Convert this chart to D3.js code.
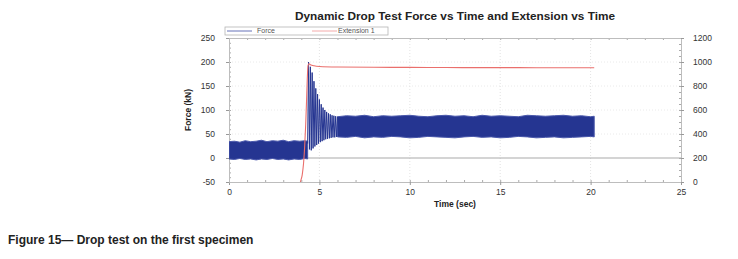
<!DOCTYPE html>
<html lang="en">
  <head>
    <meta charset="UTF-8" />
    <title>drop test force vs time</title>
    <style type="text/css">
      html,
      body {
        margin: 0;
        padding: 0;
        background: #fff;
        font-family: "Liberation Sans", Arial, sans-serif;
      }
      svg {
        display: block;
      }
    </style>
  </head>
  <body>
    <svg id="chart"></svg>
    <script src="https://cdn.jsdelivr.net/npm/d3@7/dist/d3.min.js"></script>
    <script>
      // === Data === //

      // force before the drop (envelope of the noisy signal)
      var preTime = [0, 0.3, 0.6, 0.9, 1.2, 1.5, 1.8, 2.1, 2.4, 2.7, 3.0, 3.3, 3.6, 3.9, 4.2, 4.35];
      var preHigh = [34, 35, 33, 36, 34, 35, 37, 34, 36, 35, 37, 34, 36, 35, 36, 35];
      var preLow = [-2, -3, -1, -3, -2, -4, -2, -3, -1, -3, -2, -4, -2, -3, -1, -2];

      // impact and decaying oscillation
      var decayTime = [4.35, 4.4, 4.45, 4.5, 4.55, 4.6, 4.65, 4.7, 4.75, 4.8, 4.85, 4.9, 4.95, 5.0, 5.05, 5.1, 5.15,
        5.2, 5.25, 5.3, 5.35, 5.4, 5.45, 5.5, 5.55, 5.6, 5.65, 5.7, 5.75, 5.8, 5.85, 5.9, 5.95, 6.0];
      var decayForce = [30, 200, 18, 190, 16, 178, 20, 160, 24, 145, 27, 133, 30, 122, 33, 112, 35,
        105, 37, 100, 39, 96, 40, 93, 41, 91, 42, 89, 43, 88, 43, 87, 44, 86];

      // force after the drop (envelope)
      var postTime = [6.0, 6.5, 7.0, 7.5, 8.0, 8.5, 9.0, 9.5, 10.0, 10.5, 11.0, 11.5, 12.0, 12.5, 13.0,
        13.5, 14.0, 14.5, 15.0, 15.5, 16.0, 16.5, 17.0, 17.5, 18.0, 18.5, 19.0, 19.5, 20.0, 20.2];
      var postHigh = [86, 88, 87, 89, 86, 88, 87, 88, 89, 87, 86, 88, 89, 87, 88,
        86, 89, 87, 88, 87, 86, 89, 88, 87, 88, 89, 87, 88, 86, 87];
      var postLow = [44, 43, 45, 42, 44, 43, 45, 44, 42, 43, 45, 44, 43, 42, 44,
        45, 43, 44, 42, 43, 45, 44, 42, 43, 44, 42, 43, 44, 45, 44];

      // extension 1 (mm)
      var extTime = [3.85, 3.95, 4.05, 4.12, 4.18, 4.24, 4.29, 4.33, 4.37, 4.42, 4.5, 4.7, 5, 6, 8, 10, 12, 14, 16, 18, 20.2];
      var extValue = [-80, 0, 60, 150, 280, 470, 680, 860, 970, 985, 978, 968, 962, 958, 956, 955, 954, 953, 953, 952, 952];

      var xTicks = [0, 5, 10, 15, 20, 25];
      var forceTicks = [-50, 0, 50, 100, 150, 200, 250];
      var extTicks = [0, 200, 400, 600, 800, 1000, 1200];

      var titleText = "Dynamic Drop Test Force vs Time and Extension vs Time";
      var captionText = "Figure 15\u2014 Drop test on the first specimen";

      // === Layout === //

      var width = 738,
        height = 259;
      var plot = { left: 229, right: 681, top: 38, bottom: 182 };

      var blue = "#253591",
        red = "#ea6f6c",
        grey = "#bdbdbd",
        ink = "#333";

      var svg = d3.select("#chart").attr("width", width).attr("height", height);

      var x = d3.scaleLinear().domain([0, 25]).range([plot.left, plot.right]);
      var yF = d3.scaleLinear().domain([-50, 250]).range([plot.bottom, plot.top]);
      var yE = d3.scaleLinear().domain([0, 1200]).range([plot.bottom, plot.top]);

      var plain = function(d) { return String(d); }; // keeps the ascii hyphen on -50

      svg.append("clipPath")
        .attr("id", "clip")
        .append("rect")
        .attr("x", plot.left)
        .attr("y", plot.top)
        .attr("width", plot.right - plot.left)
        .attr("height", plot.bottom - plot.top);

      // === Grid === //

      var grid = svg.append("g");

      grid.selectAll("line.vg")
        .data(xTicks.slice(1, -1))
        .enter()
        .append("line")
        .attr("x1", function(d) { return x(d); })
        .attr("x2", function(d) { return x(d); })
        .attr("y1", plot.top)
        .attr("y2", plot.bottom)
        .attr("stroke", "#dcdcdc")
        .attr("stroke-dasharray", "1,2")
        .attr("stroke-width", 0.8);

      grid.selectAll("line.hg")
        .data(forceTicks.slice(1, -1))
        .enter()
        .append("line")
        .attr("x1", plot.left)
        .attr("x2", plot.right)
        .attr("y1", function(d) { return yF(d); })
        .attr("y2", function(d) { return yF(d); })
        .attr("stroke", function(d) { return d === 0 ? "#a9a9a9" : "#e4e4e4"; })
        .attr("stroke-dasharray", function(d) { return d === 0 ? null : "1,2"; })
        .attr("stroke-width", function(d) { return d === 0 ? 1 : 0.8; });

      // === Axes === //

      function styleAxis(g) {
        g.select(".domain").attr("stroke", grey);
        g.selectAll(".tick line").attr("stroke", "#999");
        g.selectAll(".tick text")
          .attr("fill", ink)
          .style("font-family", "'Liberation Sans', Arial, sans-serif")
          .style("font-size", "8.5px");
      }

      function minorAxis(axis, scale, count, pos) {
        svg.append("g")
          .attr("transform", pos)
          .call(axis(scale).ticks(count).tickSize(2).tickFormat(""))
          .call(function(g) {
            g.select(".domain").remove();
            g.selectAll(".tick line").attr("stroke", "#aaa");
          });
      }

      minorAxis(d3.axisBottom, x, 25, "translate(0," + (plot.bottom - 2) + ")");
      minorAxis(d3.axisBottom, x, 25, "translate(0," + plot.top + ")");
      minorAxis(d3.axisRight, yF, 30, "translate(" + plot.left + ",0)");
      minorAxis(d3.axisLeft, yE, 30, "translate(" + plot.right + ",0)");

      svg.append("g")
        .attr("transform", "translate(0," + plot.bottom + ")")
        .call(d3.axisBottom(x).tickValues(xTicks).tickSize(3).tickPadding(4).tickFormat(plain))
        .call(styleAxis);

      svg.append("g")
        .attr("transform", "translate(0," + plot.top + ")")
        .call(d3.axisTop(x).tickValues(xTicks).tickSize(0).tickFormat(""))
        .call(styleAxis);

      svg.append("g")
        .attr("transform", "translate(" + plot.left + ",0)")
        .call(d3.axisLeft(yF).tickValues(forceTicks).tickSize(3).tickPadding(11).tickFormat(plain))
        .call(styleAxis);

      svg.append("g")
        .attr("transform", "translate(" + plot.right + ",0)")
        .call(d3.axisRight(yE).tickValues(extTicks).tickSize(3).tickPadding(9).tickFormat(plain))
        .call(styleAxis);

      // === Series === //

      var series = svg.append("g").attr("clip-path", "url(#clip)");

      function band(times, hi, lo) {
        var area = d3.area()
          .x(function(d, i) { return x(times[i]); })
          .y0(function(d, i) { return yF(lo[i]); })
          .y1(function(d, i) { return yF(hi[i]); });
        series.append("path")
          .datum(times)
          .attr("d", area)
          .attr("fill", blue)
          .attr("stroke", "#4a58ab")
          .attr("stroke-width", 1);
      }

      band(preTime, preHigh, preLow);
      band(postTime, postHigh, postLow);

      var forceLine = d3.line()
        .x(function(d, i) { return x(decayTime[i]); })
        .y(function(d) { return yF(d); });

      series.append("path")
        .datum(decayForce)
        .attr("d", forceLine)
        .attr("fill", "none")
        .attr("stroke", blue)
        .attr("stroke-width", 1);

      var extLine = d3.line()
        .x(function(d, i) { return x(extTime[i]); })
        .y(function(d) { return yE(d); })
        .curve(d3.curveMonotoneX);

      series.append("path")
        .datum(extValue)
        .attr("d", extLine)
        .attr("fill", "none")
        .attr("stroke", red)
        .attr("stroke-width", 1.1);

      // === Legend === //

      var legend = svg.append("g").attr("transform", "translate(225,27)");

      legend.append("rect")
        .attr("width", 163)
        .attr("height", 8)
        .attr("fill", "#fff")
        .attr("stroke", "#b5b5b5")
        .attr("stroke-width", 0.8);

      var legendItems = [
        { name: "Force", colour: "#5662b0", x: 2 },
        { name: "Extension 1", colour: "#f2a0a0", x: 87 }
      ];

      var item = legend.selectAll("g.item")
        .data(legendItems)
        .enter()
        .append("g")
        .attr("transform", function(d) { return "translate(" + d.x + ",4)"; });

      item.append("line")
        .attr("x1", 0)
        .attr("x2", 25)
        .attr("stroke", function(d) { return d.colour; })
        .attr("stroke-width", 0.9);

      item.append("text")
        .attr("x", function(d, i) { return i === 0 ? 30 : 26; })
        .attr("dy", "0.33em")
        .attr("fill", "#555")
        .style("font-size", "7px")
        .text(function(d) { return d.name; });

      // === Labels === //

      svg.append("text")
        .attr("x", (plot.left + plot.right) / 2)
        .attr("y", 20)
        .attr("text-anchor", "middle")
        .attr("fill", "#222")
        .style("font-size", "11.8px")
        .style("font-weight", "bold")
        .text(titleText);

      svg.append("text")
        .attr("x", (plot.left + plot.right) / 2)
        .attr("y", 207)
        .attr("text-anchor", "middle")
        .attr("fill", "#222")
        .style("font-size", "8.5px")
        .style("font-weight", "bold")
        .text("Time (sec)");

      svg.append("text")
        .attr("transform", "translate(191," + (plot.top + plot.bottom) / 2 + ") rotate(-90)")
        .attr("text-anchor", "middle")
        .attr("fill", "#222")
        .style("font-size", "8.5px")
        .style("font-weight", "bold")
        .text("Force (kN)");

      svg.append("text")
        .attr("x", 8)
        .attr("y", 244)
        .attr("fill", "#222")
        .style("font-size", "12px")
        .style("font-weight", "bold")
        .text(captionText);
    </script>
  </body>
</html>
